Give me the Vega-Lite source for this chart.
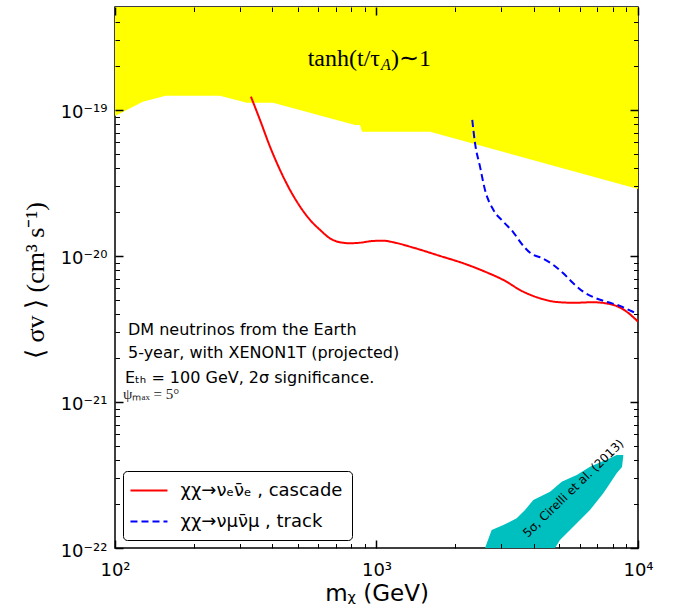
{
  "$schema": "https://vega.github.io/schema/vega-lite/v6.json",
  "width": 523,
  "height": 541,
  "autosize": {"type": "none"},
  "padding": {"left": 115, "top": 7, "right": 43, "bottom": 63},
  "config": {"view": {"stroke": "black", "strokeWidth": 1.5}, "font": "DejaVu Sans"},
  "datasets": {
    "yellow": [
      {"x": 100, "y": 9.1e-20}, {"x": 127.7, "y": 1.14e-19}, {"x": 156, "y": 1.25e-19},
      {"x": 252, "y": 1.25e-19}, {"x": 319, "y": 1.12e-19}, {"x": 402, "y": 1.12e-19},
      {"x": 828, "y": 7.9e-20}, {"x": 865, "y": 7.9e-20}, {"x": 880, "y": 7.1e-20},
      {"x": 1602, "y": 7.1e-20}, {"x": 10000, "y": 2.87e-20}
    ],
    "teal": [
      {"x": 2600, "top": 1.0e-22, "bottom": 9e-23},
      {"x": 2757, "top": 1.328e-22, "bottom": 9e-23},
      {"x": 3055, "top": 1.437e-22, "bottom": 9e-23},
      {"x": 3437, "top": 1.597e-22, "bottom": 9e-23},
      {"x": 3698, "top": 1.821e-22, "bottom": 9e-23},
      {"x": 3978, "top": 2.133e-22, "bottom": 9e-23},
      {"x": 4608, "top": 2.43e-22, "bottom": 9e-23},
      {"x": 4815, "top": 2.601e-22, "bottom": 1.0e-22},
      {"x": 5031, "top": 2.778e-22, "bottom": 1.134e-22},
      {"x": 5108, "top": 2.845e-22, "bottom": 1.165e-22},
      {"x": 5495, "top": 3.016e-22, "bottom": 1.328e-22},
      {"x": 5831, "top": 3.162e-22, "bottom": 1.476e-22},
      {"x": 6000, "top": 3.269e-22, "bottom": 1.555e-22},
      {"x": 6553, "top": 3.604e-22, "bottom": 1.821e-22},
      {"x": 7367, "top": 3.937e-22, "bottom": 2.369e-22},
      {"x": 7816, "top": 4.115e-22, "bottom": 2.774e-22},
      {"x": 8287, "top": 4.335e-22, "bottom": 3.248e-22},
      {"x": 8685, "top": 4.335e-22, "bottom": 3.587e-22},
      {"x": 8787, "top": 4.335e-22, "bottom": 4.266e-22}
    ],
    "lines": [
      {"series": "χχ→νₑν̄ₑ , cascade", "x": 331, "y": 1.233e-19},
      {"series": "χχ→νₑν̄ₑ , cascade", "x": 358.5, "y": 8.54e-20},
      {"series": "χχ→νₑν̄ₑ , cascade", "x": 391.4, "y": 5.61e-20},
      {"series": "χχ→νₑν̄ₑ , cascade", "x": 427.6, "y": 3.88e-20},
      {"series": "χχ→νₑν̄ₑ , cascade", "x": 467, "y": 2.83e-20},
      {"series": "χχ→νₑν̄ₑ , cascade", "x": 510, "y": 2.18e-20},
      {"series": "χχ→νₑν̄ₑ , cascade", "x": 557, "y": 1.766e-20},
      {"series": "χχ→νₑν̄ₑ , cascade", "x": 608, "y": 1.51e-20},
      {"series": "χχ→νₑν̄ₑ , cascade", "x": 664, "y": 1.32e-20},
      {"series": "χχ→νₑν̄ₑ , cascade", "x": 725, "y": 1.241e-20},
      {"series": "χχ→νₑν̄ₑ , cascade", "x": 792, "y": 1.222e-20},
      {"series": "χχ→νₑν̄ₑ , cascade", "x": 865, "y": 1.233e-20},
      {"series": "χχ→νₑν̄ₑ , cascade", "x": 972, "y": 1.267e-20},
      {"series": "χχ→νₑν̄ₑ , cascade", "x": 1062, "y": 1.273e-20},
      {"series": "χχ→νₑν̄ₑ , cascade", "x": 1159, "y": 1.241e-20},
      {"series": "χχ→νₑν̄ₑ , cascade", "x": 1383, "y": 1.14e-20},
      {"series": "χχ→νₑν̄ₑ , cascade", "x": 1750, "y": 1.0e-20},
      {"series": "χχ→νₑν̄ₑ , cascade", "x": 2148, "y": 8.91e-21},
      {"series": "χχ→νₑν̄ₑ , cascade", "x": 2562, "y": 7.89e-21},
      {"series": "χχ→νₑν̄ₑ , cascade", "x": 3055, "y": 6.85e-21},
      {"series": "χχ→νₑν̄ₑ , cascade", "x": 3642, "y": 5.69e-21},
      {"series": "χχ→νₑν̄ₑ , cascade", "x": 4218, "y": 5.13e-21},
      {"series": "χχ→νₑν̄ₑ , cascade", "x": 4888, "y": 4.84e-21},
      {"series": "χχ→νₑν̄ₑ , cascade", "x": 5656, "y": 4.78e-21},
      {"series": "χχ→νₑν̄ₑ , cascade", "x": 6745, "y": 4.82e-21},
      {"series": "χχ→νₑν̄ₑ , cascade", "x": 8045, "y": 4.62e-21},
      {"series": "χχ→νₑν̄ₑ , cascade", "x": 9055, "y": 4.15e-21},
      {"series": "χχ→νₑν̄ₑ , cascade", "x": 10000, "y": 3.55e-21},
      {"series": "χχ→νμν̄μ , track", "x": 2324, "y": 8.54e-20},
      {"series": "χχ→νμν̄μ , track", "x": 2381, "y": 5.92e-20},
      {"series": "χχ→νμν̄μ , track", "x": 2488, "y": 4.09e-20},
      {"series": "χχ→νμν̄μ , track", "x": 2600, "y": 2.83e-20},
      {"series": "χχ→νμν̄μ , track", "x": 2797, "y": 2.07e-20},
      {"series": "χχ→νμν̄μ , track", "x": 3073, "y": 1.70e-20},
      {"series": "χχ→νμν̄μ , track", "x": 3336, "y": 1.453e-20},
      {"series": "χχ→νμν̄μ , track", "x": 3592, "y": 1.208e-20},
      {"series": "χχ→νμν̄μ , track", "x": 3888, "y": 1.043e-20},
      {"series": "χχ→νμν̄μ , track", "x": 4306, "y": 9.64e-21},
      {"series": "χχ→νμν̄μ , track", "x": 4743, "y": 8.68e-21},
      {"series": "χχ→νμν̄μ , track", "x": 5180, "y": 7.61e-21},
      {"series": "χχ→νμν̄μ , track", "x": 5656, "y": 6.50e-21},
      {"series": "χχ→νμν̄μ , track", "x": 6178, "y": 5.69e-21},
      {"series": "χχ→νμν̄μ , track", "x": 6849, "y": 5.16e-21},
      {"series": "χχ→νμν̄μ , track", "x": 7631, "y": 4.84e-21},
      {"series": "χχ→νμν̄μ , track", "x": 8531, "y": 4.55e-21},
      {"series": "χχ→νμν̄μ , track", "x": 9460, "y": 4.18e-21},
      {"series": "χχ→νμν̄μ , track", "x": 9827, "y": 4.07e-21}
    ]
  },
  "resolve": {"axis": {"x": "independent", "y": "independent"}},
  "layer": [
    {
      "data": {"name": "yellow"},
      "mark": {"type": "area", "color": "#ffff00", "clip": true, "opacity": 1},
      "encoding": {
        "x": {"field": "x", "type": "quantitative", "scale": {"type": "log", "domain": [100, 10000], "nice": false}, "axis": null},
        "y": {"field": "y", "type": "quantitative", "scale": {"type": "log", "domain": [1e-22, 5.07e-19], "nice": false}, "axis": null},
        "y2": {"datum": 1e-18}
      }
    },
    {
      "data": {"name": "teal"},
      "mark": {"type": "area", "color": "#00bfbf", "clip": true, "opacity": 1},
      "encoding": {
        "x": {"field": "x", "type": "quantitative", "scale": {"type": "log", "domain": [100, 10000], "nice": false}, "axis": null},
        "y": {"field": "top", "type": "quantitative", "scale": {"type": "log", "domain": [1e-22, 5.07e-19], "nice": false}, "axis": null},
        "y2": {"field": "bottom"}
      }
    },
    {
      "data": {"name": "lines"},
      "mark": {"type": "line", "strokeWidth": 2, "clip": true, "interpolate": "monotone"},
      "encoding": {
        "x": {"field": "x", "type": "quantitative", "scale": {"type": "log", "domain": [100, 10000], "nice": false}, "axis": null},
        "y": {"field": "y", "type": "quantitative", "scale": {"type": "log", "domain": [1e-22, 5.07e-19], "nice": false}, "axis": null},
        "color": {
          "field": "series", "type": "nominal",
          "scale": {"domain": ["χχ→νₑν̄ₑ , cascade", "χχ→νμν̄μ , track"], "range": ["#ff0000", "#0000ff"]},
          "legend": {"title": null, "orient": "bottom-left", "offset": 8, "symbolType": "M-1.3,0H2.7", "symbolSize": 342, "symbolStrokeWidth": 2, "labelFontSize": 18, "labelFont": "DejaVu Sans", "labelColor": "black", "labelOffset": 27.5, "rowPadding": 11, "padding": 9, "strokeColor": "black", "cornerRadius": 4, "fillColor": "white", "labelLimit": 300}
        },
        "strokeDash": {
          "field": "series", "type": "nominal",
          "scale": {"domain": ["χχ→νₑν̄ₑ , cascade", "χχ→νμν̄μ , track"], "range": [[1, 0], [7, 4]]},
          "legend": {"title": null, "orient": "bottom-left", "offset": 8, "symbolType": "M-1.3,0H2.7", "symbolSize": 342, "symbolStrokeWidth": 2, "labelFontSize": 18, "labelFont": "DejaVu Sans", "labelColor": "black", "labelOffset": 27.5, "rowPadding": 11, "padding": 9, "strokeColor": "black", "cornerRadius": 4, "fillColor": "white", "labelLimit": 300}
        }
      }
    },
    {
      "data": {"values": [
        {"x": 112.1, "y": 2.875e-21, "text": "DM neutrinos from the Earth"},
        {"x": 112.1, "y": 1.99e-21, "text": "5-year, with XENON1T (projected)"},
        {"x": 109.2, "y": 1.355e-21, "text": "Eₜₕ = 100 GeV, 2σ significance."}
      ]},
      "mark": {"type": "text", "align": "left", "baseline": "alphabetic", "fontSize": 16, "font": "DejaVu Sans", "color": "black"},
      "encoding": {
        "x": {"field": "x", "type": "quantitative", "scale": {"type": "log", "domain": [100, 10000], "nice": false}, "axis": null},
        "y": {"field": "y", "type": "quantitative", "scale": {"type": "log", "domain": [1e-22, 5.07e-19], "nice": false}, "axis": null},
        "text": {"field": "text"}
      }
    },
    {
      "data": {"values": [{"x": 107.3, "y": 1.05e-21, "text": "ψₘₐₓ = 5°"}]},
      "mark": {"type": "text", "align": "left", "baseline": "alphabetic", "fontSize": 15, "font": "Liberation Serif", "color": "#222"},
      "encoding": {
        "x": {"field": "x", "type": "quantitative", "scale": {"type": "log", "domain": [100, 10000], "nice": false}, "axis": null},
        "y": {"field": "y", "type": "quantitative", "scale": {"type": "log", "domain": [1e-22, 5.07e-19], "nice": false}, "axis": null},
        "text": {"field": "text"}
      }
    },
    {
      "data": {"values": [{"x": 1031, "y": 2.0e-19, "text": "tanh(t/τ"}]},
      "mark": {"type": "text", "align": "right", "baseline": "alphabetic", "fontSize": 24, "font": "Liberation Serif", "color": "black"},
      "encoding": {
        "x": {"field": "x", "type": "quantitative", "scale": {"type": "log", "domain": [100, 10000], "nice": false}, "axis": null},
        "y": {"field": "y", "type": "quantitative", "scale": {"type": "log", "domain": [1e-22, 5.07e-19], "nice": false}, "axis": null},
        "text": {"field": "text"}
      }
    },
    {
      "data": {"values": [{"x": 1040, "y": 1.88e-19, "text": "A"}]},
      "mark": {"type": "text", "align": "left", "baseline": "alphabetic", "fontSize": 16, "font": "Liberation Serif", "fontStyle": "italic", "color": "black"},
      "encoding": {
        "x": {"field": "x", "type": "quantitative", "scale": {"type": "log", "domain": [100, 10000], "nice": false}, "axis": null},
        "y": {"field": "y", "type": "quantitative", "scale": {"type": "log", "domain": [1e-22, 5.07e-19], "nice": false}, "axis": null},
        "text": {"field": "text"}
      }
    },
    {
      "data": {"values": [{"x": 1136, "y": 2.0e-19, "text": ")∼1"}]},
      "mark": {"type": "text", "align": "left", "baseline": "alphabetic", "fontSize": 24, "font": "Liberation Serif", "color": "black"},
      "encoding": {
        "x": {"field": "x", "type": "quantitative", "scale": {"type": "log", "domain": [100, 10000], "nice": false}, "axis": null},
        "y": {"field": "y", "type": "quantitative", "scale": {"type": "log", "domain": [1e-22, 5.07e-19], "nice": false}, "axis": null},
        "text": {"field": "text"}
      }
    },
    {
      "data": {"values": [{"x": 5656, "y": 2.56e-22, "text": "5σ, Cirelli et al. (2013)"}]},
      "mark": {"type": "text", "align": "center", "baseline": "middle", "fontSize": 12, "font": "DejaVu Sans", "angle": 316, "color": "black"},
      "encoding": {
        "x": {"field": "x", "type": "quantitative", "scale": {"type": "log", "domain": [100, 10000], "nice": false}, "axis": null},
        "y": {"field": "y", "type": "quantitative", "scale": {"type": "log", "domain": [1e-22, 5.07e-19], "nice": false}, "axis": null},
        "text": {"field": "text"}
      }
    },
    {
      "data": {"name": "yellow"},
      "mark": {"type": "point", "opacity": 0, "size": 0},
      "encoding": {
        "x": {"field": "x", "type": "quantitative", "scale": {"type": "log", "domain": [100, 10000], "nice": false},
          "axis": {"orient": "bottom", "values": [100, 1000, 10000], "ticks": false, "domain": false, "grid": false,
            "labelExpr": "datum.value == 100 ? '10²' : datum.value == 1000 ? '10³' : '10⁴'",
            "labelFontSize": 18, "labelFont": "DejaVu Sans", "labelColor": "black", "labelPadding": 27, "labelBaseline": "alphabetic", "labelFlush": false, "labelOverlap": false,
            "title": "mᵪ (GeV)", "titleFontSize": 23, "titleFont": "DejaVu Sans", "titleFontWeight": "normal", "titleColor": "black", "titleY": 52, "titleBaseline": "alphabetic", "zindex": 1}},
        "y": {"field": "y", "type": "quantitative", "scale": {"type": "log", "domain": [1e-22, 5.07e-19], "nice": false},
          "axis": {"orient": "left", "values": [1e-22, 1e-21, 1e-20, 1e-19], "ticks": false, "domain": false, "grid": false,
            "labelExpr": "round(log(datum.value)/LN10) == -22 ? '10⁻²²' : round(log(datum.value)/LN10) == -21 ? '10⁻²¹' : round(log(datum.value)/LN10) == -20 ? '10⁻²⁰' : '10⁻¹⁹'",
            "labelFontSize": 18, "labelFont": "DejaVu Sans", "labelColor": "black", "labelPadding": 8, "labelBaseline": "middle", "labelOffset": 3, "labelFlush": false, "labelOverlap": false,
            "title": "⟨ σv ⟩  (cm³ s⁻¹)", "titleFontSize": 26, "titleFont": "Liberation Serif", "titleFontWeight": "normal", "titleColor": "black", "titleX": -72, "titleY": 273, "titleAngle": 270, "titleBaseline": "alphabetic", "titleAlign": "center", "zindex": 1}}
      }
    },
    {
      "data": {"name": "yellow"},
      "mark": {"type": "point", "opacity": 0, "size": 0},
      "encoding": {
        "x": {"field": "x", "type": "quantitative", "scale": {"type": "log", "domain": [100, 10000], "nice": false},
          "axis": {"orient": "bottom", "values": [100, 1000, 10000], "labels": false, "domain": false, "grid": false, "ticks": true, "tickSize": -8, "tickWidth": 1.5, "tickColor": "black", "title": null, "zindex": 1}},
        "y": {"field": "y", "type": "quantitative", "scale": {"type": "log", "domain": [1e-22, 5.07e-19], "nice": false},
          "axis": {"orient": "left", "values": [1e-22, 1e-21, 1e-20, 1e-19], "labels": false, "domain": false, "grid": false, "ticks": true, "tickSize": -8, "tickWidth": 1.5, "tickColor": "black", "title": null, "zindex": 1}}
      }
    },
    {
      "data": {"name": "yellow"},
      "mark": {"type": "point", "opacity": 0, "size": 0},
      "encoding": {
        "x": {"field": "x", "type": "quantitative", "scale": {"type": "log", "domain": [100, 10000], "nice": false},
          "axis": {"orient": "bottom", "values": [200, 300, 400, 500, 600, 700, 800, 900, 2000, 3000, 4000, 5000, 6000, 7000, 8000, 9000], "labels": false, "domain": false, "grid": false, "ticks": true, "tickSize": -4.5, "tickWidth": 1, "tickColor": "black", "title": null, "zindex": 1}},
        "y": {"field": "y", "type": "quantitative", "scale": {"type": "log", "domain": [1e-22, 5.07e-19], "nice": false},
          "axis": {"orient": "left", "values": [2e-22, 3e-22, 4e-22, 5e-22, 6e-22, 7e-22, 8e-22, 9e-22, 2e-21, 3e-21, 4e-21, 5e-21, 6e-21, 7e-21, 8e-21, 9e-21, 2e-20, 3e-20, 4e-20, 5e-20, 6e-20, 7e-20, 8e-20, 9e-20, 2e-19, 3e-19, 4e-19], "labels": false, "domain": false, "grid": false, "ticks": true, "tickSize": -4.5, "tickWidth": 1, "tickColor": "black", "title": null, "zindex": 1}}
      }
    },
    {
      "data": {"name": "yellow"},
      "mark": {"type": "point", "opacity": 0, "size": 0},
      "encoding": {
        "x": {"field": "x", "type": "quantitative", "scale": {"type": "log", "domain": [100, 10000], "nice": false},
          "axis": {"orient": "top", "values": [100, 1000, 10000], "labels": false, "domain": false, "grid": false, "ticks": true, "tickSize": -8, "tickWidth": 1.5, "tickColor": "black", "title": null, "zindex": 1}},
        "y": {"field": "y", "type": "quantitative", "scale": {"type": "log", "domain": [1e-22, 5.07e-19], "nice": false},
          "axis": {"orient": "right", "values": [1e-22, 1e-21, 1e-20, 1e-19], "labels": false, "domain": false, "grid": false, "ticks": true, "tickSize": -8, "tickWidth": 1.5, "tickColor": "black", "title": null, "zindex": 1}}
      }
    },
    {
      "data": {"name": "yellow"},
      "mark": {"type": "point", "opacity": 0, "size": 0},
      "encoding": {
        "x": {"field": "x", "type": "quantitative", "scale": {"type": "log", "domain": [100, 10000], "nice": false},
          "axis": {"orient": "top", "values": [200, 300, 400, 500, 600, 700, 800, 900, 2000, 3000, 4000, 5000, 6000, 7000, 8000, 9000], "labels": false, "domain": false, "grid": false, "ticks": true, "tickSize": -4.5, "tickWidth": 1, "tickColor": "black", "title": null, "zindex": 1}},
        "y": {"field": "y", "type": "quantitative", "scale": {"type": "log", "domain": [1e-22, 5.07e-19], "nice": false},
          "axis": {"orient": "right", "values": [2e-22, 3e-22, 4e-22, 5e-22, 6e-22, 7e-22, 8e-22, 9e-22, 2e-21, 3e-21, 4e-21, 5e-21, 6e-21, 7e-21, 8e-21, 9e-21, 2e-20, 3e-20, 4e-20, 5e-20, 6e-20, 7e-20, 8e-20, 9e-20, 2e-19, 3e-19, 4e-19], "labels": false, "domain": false, "grid": false, "ticks": true, "tickSize": -4.5, "tickWidth": 1, "tickColor": "black", "title": null, "zindex": 1}}
      }
    }
  ]
}
